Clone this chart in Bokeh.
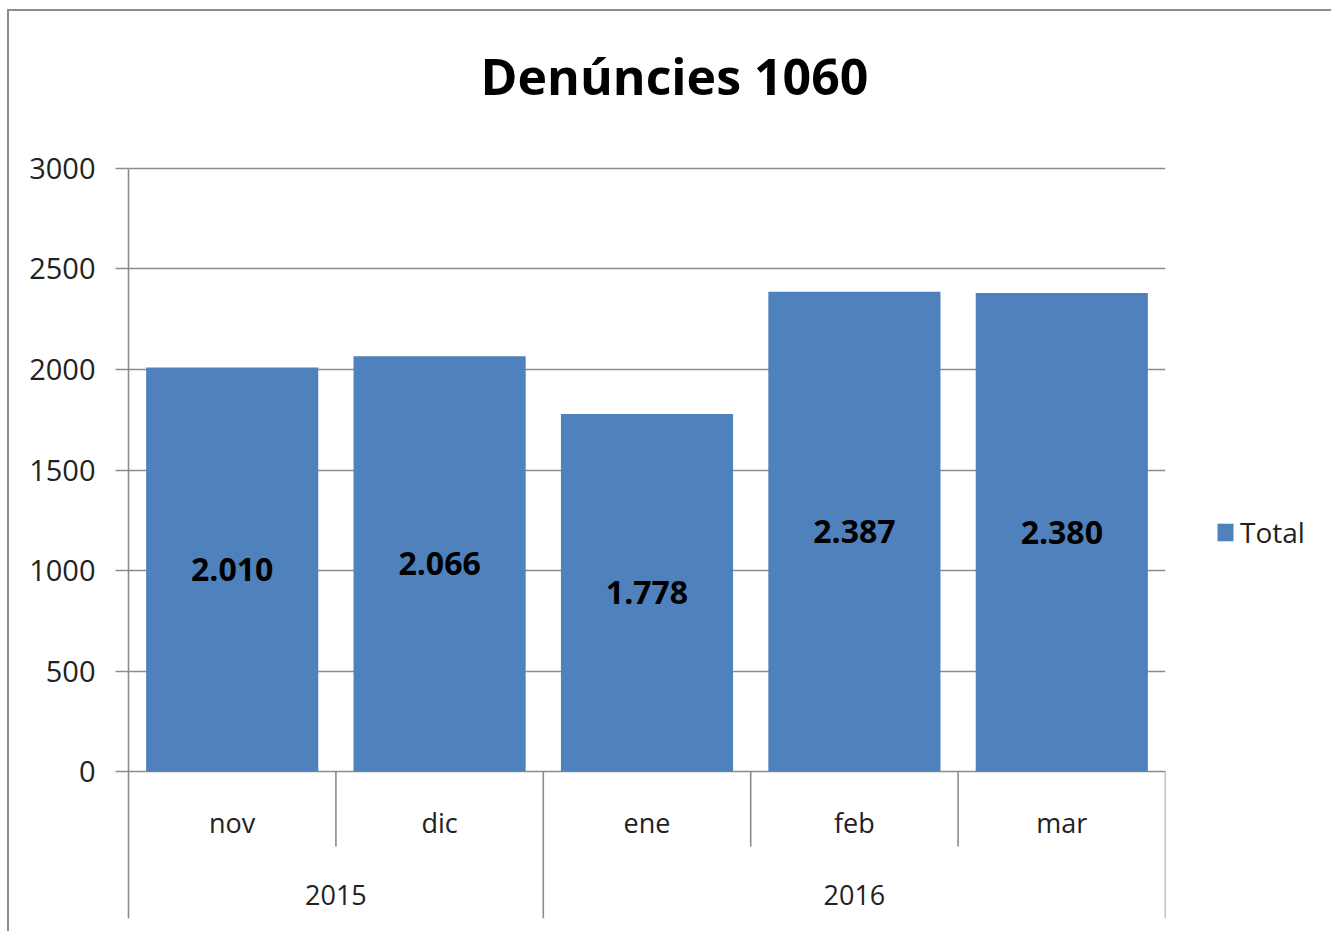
from bokeh.plotting import figure
from bokeh.models import (FactorRange, Range1d, FixedTicker, Legend, LegendItem,
                          ColumnDataSource)
from bokeh.core.properties import value
from bokeh.embed import file_html
from bokeh.resources import INLINE

# ---- data ----
years = ["2015", "2015", "2016", "2016", "2016"]
months = ["nov", "dic", "ene", "feb", "mar"]
totals = [2010, 2066, 1778, 2387, 2380]
y_ticks = [0, 500, 1000, 1500, 2000, 2500, 3000]
title_text = "Denúncies 1060"
series_name = "Total"

FONT = "Open Sans"
GRAY = "#8c8c8c"
BLUE = "#4F81BD"

factors = list(zip(years, months))
labels = [f"{v:,}".replace(",", ".") for v in totals]

p = figure(
    x_range=FactorRange(*factors, range_padding=0, factor_padding=0,
                        group_padding=0, subgroup_padding=0),
    y_range=Range1d(-731, 3154),
    frame_width=1037, frame_height=781,
    output_backend="svg", toolbar_location=None,
    x_axis_location=None,
    min_border_left=119, min_border_right=164,
    min_border_top=126, min_border_bottom=13,
)
p.outline_line_color = None
p.xgrid.visible = False
p.background_fill_color = "white"
p.border_fill_color = "white"

# y axis
yax = p.yaxis[0]
yax.ticker = FixedTicker(ticks=y_ticks)
yax.bounds = (-731, y_ticks[-1])
yax.axis_line_color = GRAY
yax.axis_line_width = 1.6
yax.major_tick_line_color = GRAY
yax.major_tick_line_width = 1.6
yax.major_tick_out = 13
yax.major_tick_in = 0
yax.minor_tick_line_color = None
yax.major_label_standoff = 20
yax.major_label_text_font = FONT
yax.major_label_text_font_size = "29px"
yax.major_label_text_color = "#222222"

p.ygrid.grid_line_color = GRAY
p.ygrid.grid_line_width = 1.6

# bars
src = ColumnDataSource(dict(x=factors, top=totals,
                            mid=[v / 2 for v in totals], lab=labels))
bars = p.vbar(x="x", top="top", width=0.83, source=src,
              fill_color=BLUE, line_color=None)

# data labels
p.text(x="x", y="mid", text="lab", source=src,
       text_font=value(FONT), text_font_size="32px", text_font_style="bold",
       text_color="black", text_align="center", text_baseline="middle")

# category separators (multi-level axis look)
sep_x, sep_y1 = [], []
for i, f in enumerate(factors):
    sep_x.append((f[0], f[1], 0.5))
    last = i == len(factors) - 1
    year_change = last or years[i + 1] != years[i]
    sep_y1.append(-731 if year_change else -373)
p.segment(x0=sep_x, y0=[0] * len(sep_x), x1=sep_x, y1=sep_y1,
          line_color=GRAY, line_width=1.6)

# month labels
p.text(x=factors, y=[-253] * len(factors), text=months,
       text_font=value(FONT), text_font_size="27px", text_color="#222222",
       text_align="center", text_baseline="middle")

# year labels (group centers)
uniq_years = list(dict.fromkeys(years))
p.text(x=uniq_years, y=[-616] * len(uniq_years), text=uniq_years,
       text_font=value(FONT), text_font_size="27px", text_color="#222222",
       text_align="center", text_baseline="middle")

# title
p.title.text = title_text
p.title.align = "left"
p.title.offset = 352
p.title.standoff = 56
p.title.text_font = FONT
p.title.text_font_size = "50px"
p.title.text_font_style = "bold"
p.title.text_color = "black"

# legend
legend = Legend(items=[LegendItem(label=series_name, renderers=[bars])],
                location=(50, 367), orientation="vertical",
                border_line_color=None, background_fill_alpha=0,
                glyph_width=20, glyph_height=22, label_standoff=5,
                padding=0, margin=0, spacing=0,
                label_text_font=FONT, label_text_font_size="28px",
                label_text_color="#222222")
p.add_layout(legend, "right")

# outer chart border
p.styles = {"margin-left": "7px", "margin-top": "9px",
            "border-top": f"2px solid {GRAY}", "border-left": f"2px solid {GRAY}"}

open("out.html", "w").write(file_html(p, INLINE))
